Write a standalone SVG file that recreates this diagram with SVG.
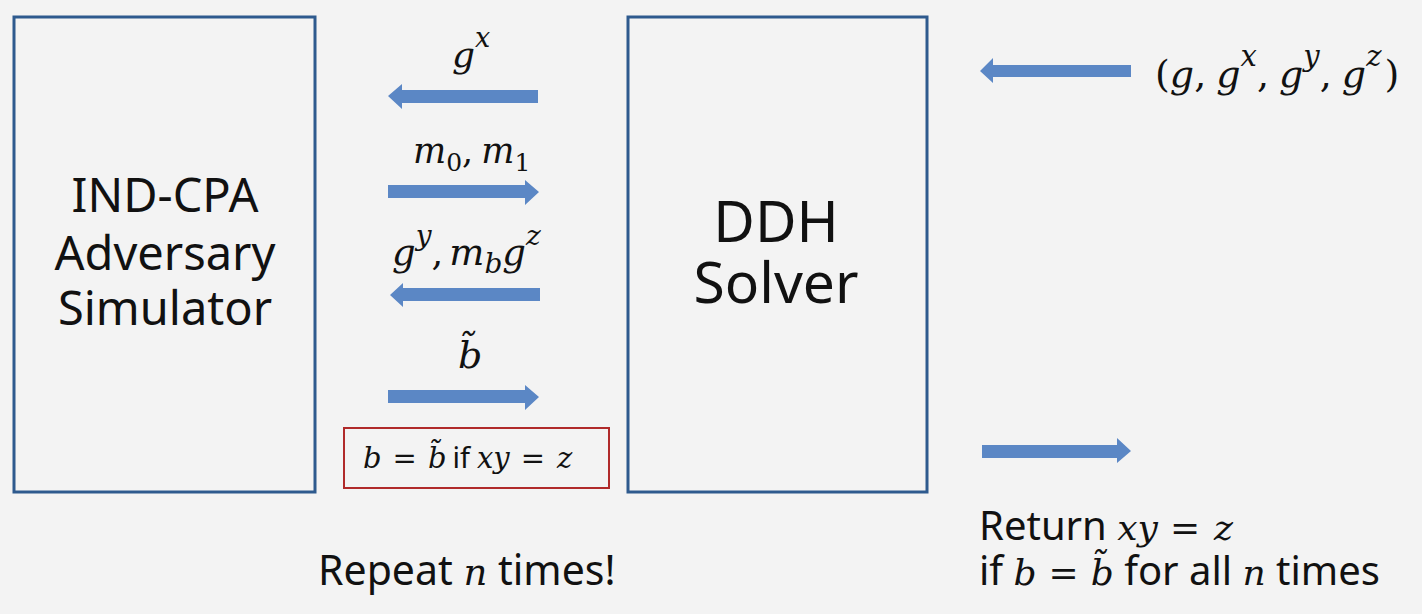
<svg xmlns="http://www.w3.org/2000/svg" width="1422" height="614" viewBox="0 0 1422 614">
<style>
.box{fill:none;stroke:#2e5a8e;stroke-width:3}
.arr{fill:#5b87c5}
.sans{font-family:"Noto Sans","Liberation Sans",sans-serif;fill:#111}
.m{font-family:"DejaVu Serif","Liberation Serif",serif;font-style:italic;fill:#111}
.r{font-family:"DejaVu Serif","Liberation Serif",serif;font-style:normal;fill:#111}
.s{font-family:"Noto Sans","Liberation Sans",sans-serif;font-style:normal}
</style>
<rect width="1422" height="614" fill="#f3f3f3"/>
<g id="adversary">
<rect class="box" x="14" y="17" width="301" height="475"/>
<text class="sans" font-size="47" text-anchor="middle"><tspan x="165" y="212">IND-CPA</tspan><tspan x="165" y="270">Adversary</tspan><tspan x="165" y="325">Simulator</tspan></text>
</g>
<g id="solver">
<rect class="box" x="628" y="17" width="299" height="475"/>
<text class="sans" font-size="57" text-anchor="middle"><tspan x="776" y="242">DDH</tspan><tspan x="776" y="303">Solver</tspan></text>
</g>
<g id="condition">
<rect x="344" y="428" width="265" height="60" fill="none" stroke="#b02a2a" stroke-width="2"/>
<text class="m" font-size="29" x="363" y="468">b<tspan class="r" dx="11">=</tspan><tspan dx="11">b&#771;</tspan><tspan class="s" dx="6">if</tspan><tspan dx="7">xy</tspan><tspan class="r" dx="11">=</tspan><tspan dx="12">z</tspan></text>
</g>
<g id="connectors">
<polygon class="arr" points="538,90 402,90 402,84 388,96 402,109 402,103 538,103"/>
<polygon class="arr" points="388,185 525,185 525,180 539,192 525,205 525,198 388,198"/>
<polygon class="arr" points="540,288 403,288 403,283 390,295 403,307 403,301 540,301"/>
<polygon class="arr" points="388,390 525,390 525,385 539,397 525,410 525,403 388,403"/>
<polygon class="arr" points="1131,65 993,65 993,58 980,71 993,83 993,77 1131,77"/>
<polygon class="arr" points="982,445 1117,445 1117,438 1131,451 1117,463 1117,458 982,458"/>
</g>
<g id="labels">
<text class="m" font-size="36" x="452" y="67">g<tspan font-size="27" dy="-20">x</tspan></text>
<text class="m" font-size="35" x="413" y="163">m<tspan class="r" font-size="25" dy="8">0</tspan><tspan class="r" dy="-8">,</tspan><tspan dx="8">m</tspan><tspan class="r" font-size="25" dy="8">1</tspan></text>
<text class="m" font-size="37" x="392" y="265">g<tspan font-size="28" dy="-20">y</tspan><tspan class="r" dy="20">,</tspan><tspan dx="6">m</tspan><tspan font-size="28" dy="8">b</tspan><tspan dy="-8">g</tspan><tspan font-size="28" dy="-20">z</tspan></text>
<text class="m" font-size="38" x="458" y="368">b&#771;</text>
<text class="m" font-size="38" x="1155" y="87"><tspan class="r">(</tspan>g<tspan class="r">,</tspan><tspan dx="10">g</tspan><tspan font-size="29" dy="-21">x</tspan><tspan class="r" dy="21">,</tspan><tspan dx="10">g</tspan><tspan font-size="29" dy="-21">y</tspan><tspan class="r" dy="21">,</tspan><tspan dx="10">g</tspan><tspan font-size="29" dy="-21">z</tspan><tspan class="r" dy="21" dx="3">)</tspan></text>
<text class="sans" font-size="41" x="318" y="585">Repeat <tspan class="m" font-size="37">n</tspan> times!</text>
<text class="sans" font-size="40" x="979" y="540">Return <tspan class="m" font-size="36">xy</tspan><tspan class="r" font-size="36" dx="12">=</tspan><tspan class="m" font-size="36" dx="14">z</tspan></text>
<text class="sans" font-size="40" x="979" y="585">if <tspan class="m" font-size="36">b</tspan><tspan class="r" font-size="36" dx="12">=</tspan><tspan class="m" font-size="36" dx="12">b&#771;</tspan> for all <tspan class="m" font-size="36">n</tspan> times</text>
</g>
</svg>
